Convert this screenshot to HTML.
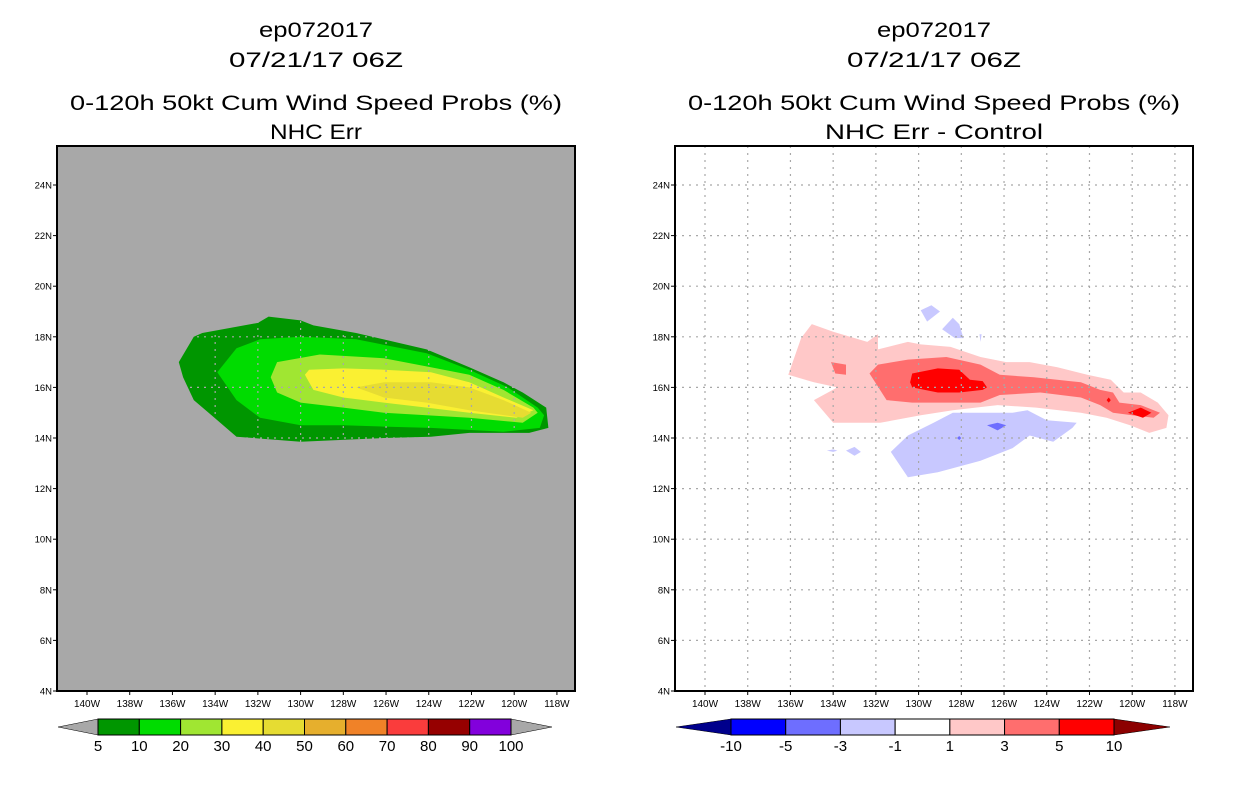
<!DOCTYPE html>
<html><head><meta charset="utf-8"><style>
html,body{margin:0;padding:0;background:#fff;}
svg{display:block;}
text{font-family:"Liberation Sans",sans-serif;fill:#000;}
</style></head><body>
<svg id="chart" width="1236" height="800" viewBox="0 0 1236 800" xmlns="http://www.w3.org/2000/svg"></svg>
<script>
// ---- data ----
const lonTicks = [140,138,136,134,132,130,128,126,124,122,120,118];
const latTicks = [4,6,8,10,12,14,16,18,20,22,24];
const leftLevels = ["5","10","20","30","40","50","60","70","80","90","100"];
const leftColors = ["#009600","#00dc00","#a0e632","#faf032","#e6dc32","#e6af2d","#f08228","#fa3c3c","#960000","#8200dc"];
const rightLevels = ["-10","-5","-3","-1","1","3","5","10"];
const rightColors = ["#00008c","#0000ff","#6e6eff","#c8c8ff","#ffffff","#ffc8c8","#ff6e6e","#ff0000","#8c0000"];
// contour polygons: [lonW, latN]
const prob5 = [[135.7,17.0],[135.0,18.0],[134.6,18.15],[132.0,18.55],[131.5,18.8],[130.0,18.65],[129.4,18.45],[127.4,18.15],[124.1,17.5],[122.1,16.8],[120.5,16.2],[119.6,15.8],[118.5,15.2],[118.4,14.4],[119.3,14.2],[122.1,14.2],[123.9,14.05],[126.1,14.0],[130.0,13.85],[133.0,14.05],[134.1,14.85],[135.0,15.5],[135.5,16.4]];
const prob10 = [[133.9,16.6],[133.0,17.55],[131.9,17.9],[130.0,18.0],[127.4,17.9],[124.1,17.35],[122.1,16.7],[120.3,16.0],[118.9,15.2],[118.6,14.9],[118.8,14.4],[120.5,14.25],[123.9,14.4],[126.1,14.45],[128.0,14.5],[130.0,14.5],[131.9,14.8],[133.0,15.5]];
const prob20 = [[131.4,16.4],[131.1,17.0],[129.1,17.3],[126.1,17.15],[123.9,16.8],[122.1,16.5],[120.5,15.9],[119.1,15.2],[118.9,15.0],[119.6,14.6],[122.1,14.8],[124.1,14.9],[126.1,15.0],[128.0,15.2],[130.0,15.4],[131.1,15.8]];
const prob30 = [[129.8,16.5],[129.6,16.7],[128.0,16.75],[126.1,16.7],[123.9,16.6],[122.1,16.2],[120.5,15.6],[119.1,15.1],[119.9,14.8],[122.1,15.0],[124.1,15.2],[126.1,15.4],[128.0,15.6],[129.4,15.9]];
const prob40 = [[127.4,16.0],[126.1,16.2],[123.9,16.2],[122.1,16.0],[120.5,15.5],[119.2,15.0],[119.6,14.8],[122.1,15.1],[124.1,15.4],[126.1,15.6]];
const diffPos1 = [[136.1,16.5],[135.5,17.95],[135.0,18.5],[134.0,18.2],[132.4,17.8],[131.9,18.1],[131.9,17.5],[130.5,17.8],[129.9,17.7],[128.5,17.6],[127.1,17.2],[125.9,17.0],[124.8,17.0],[123.5,16.8],[122.1,16.5],[121.0,16.3],[120.4,15.8],[119.6,15.8],[118.8,15.4],[118.3,14.9],[118.4,14.4],[119.2,14.2],[120.1,14.5],[121.2,14.8],[122.4,15.0],[124.5,15.2],[126.3,15.3],[128.4,15.1],[129.9,14.9],[131.8,14.6],[134.0,14.6],[134.9,15.5],[133.8,16.0],[134.9,16.2]];
const diffPos3 = [[132.3,16.55],[131.9,16.9],[130.5,17.1],[128.7,17.2],[127.1,16.9],[126.2,16.5],[124.6,16.4],[122.4,16.2],[121.5,15.9],[120.9,15.8],[120.6,15.4],[119.6,15.3],[118.7,15.0],[119.0,14.8],[120.0,14.9],[120.9,15.0],[121.5,15.3],[122.4,15.6],[124.3,15.8],[126.2,15.7],[127.1,15.4],[128.7,15.4],[130.3,15.4],[131.5,15.5]];
const diffPos3b = [[134.1,17.0],[133.4,16.9],[133.4,16.5],[133.9,16.55]];
const diffPos5 = [[130.3,16.55],[129.1,16.75],[128.1,16.7],[127.6,16.3],[127.0,16.25],[126.8,16.0],[127.0,15.9],[128.1,15.8],[129.1,15.8],[130.3,16.0],[130.4,16.2]];
const diffPos5b = [[120.2,15.0],[119.6,15.2],[119.1,15.0],[119.5,14.8]];
const diffPos5c = [[121.2,15.5],[121.1,15.6],[121.0,15.5],[121.1,15.4]];
const diffNeg1 = [[131.3,13.45],[130.5,14.1],[129.3,14.6],[128.4,15.0],[127.1,15.0],[125.6,15.0],[124.9,15.1],[124.0,14.7],[122.6,14.6],[122.8,14.4],[123.7,13.85],[124.8,14.1],[125.6,13.6],[127.1,13.1],[129.1,12.65],[130.5,12.45]];
const diffNeg1b = [[129.9,19.05],[129.4,19.25],[129.0,19.0],[129.6,18.6]];
const diffNeg1c = [[128.9,18.3],[128.4,18.75],[128.1,18.5],[127.9,17.95],[128.3,17.95]];
const diffNeg1d = [[133.4,13.5],[133.0,13.65],[132.7,13.45],[133.0,13.3]];
const diffNeg1e = [[134.3,13.5],[134.0,13.55],[133.8,13.5],[134.0,13.45]];
const diffNeg1f = [[127.15,18.1],[127.05,18.1],[127.1,17.8]];
const diffNeg3 = [[126.8,14.5],[126.3,14.6],[125.9,14.5],[126.3,14.3]];
const diffNeg3b = [[128.2,14.0],[128.1,14.08],[128.0,14.0],[128.1,13.92]];

// ---- drawing ----
const NS = "http://www.w3.org/2000/svg";
const svg = document.getElementById("chart");
function mk(tag, attrs, parent){const e=document.createElementNS(NS,tag);for(const k in attrs)e.setAttribute(k,attrs[k]);(parent||svg).appendChild(e);return e;}
const TOP=146,BOT=691,W=518;
function xs(x0){return lonW => x0 + 30 + (140-lonW)*21.36;}
function ys(lat){return BOT-(lat-4)*25.3;}
function poly(g, pts, x, color, name){
  const p = mk("polygon",{points:pts.map(d=>x(d[0]).toFixed(1)+","+ys(d[1]).toFixed(1)).join(" "),fill:color},g);
  
  
}
function text(s, x, y, size, anchor, parent, name, len){
  const t = mk("text",{x:x,y:y,"font-size":size,"text-anchor":anchor||"middle"},parent);
  if(len){t.setAttribute("textLength",len);t.setAttribute("lengthAdjust","spacingAndGlyphs");}
  t.textContent = s;
  
  
  return t;
}
function panel(x0, bg, gridColor, layers, sub, subLen, name){
  const g = mk("g",{});
  
  
  const cx = x0 + W/2 + 0;
  text("ep072017", cx, 37, 21, "middle", g, "storm-id-title", 114);
  text("07/21/17 06Z", cx, 67, 21, "middle", g, "date-title", 174);
  text("0-120h 50kt Cum Wind Speed Probs (%)", cx, 110, 21, "middle", g, "chart-title", 492);
  text(sub, cx, 139, 21, "middle", g, "subtitle", subLen);
  const bgR = mk("rect",{x:x0,y:TOP,width:W,height:BOT-TOP,fill:bg},g);
  
  
  const x = xs(x0);
  layers.forEach(l => poly(g, l[0], x, l[1], l[2]));
  lonTicks.forEach(v=>{
    const gl = mk("line",{x1:x(v),x2:x(v),y1:TOP,y2:BOT,stroke:gridColor,"stroke-width":1.2,"stroke-dasharray":"2,5"},g);
    
    
    const tk = mk("line",{x1:x(v),x2:x(v),y1:BOT,y2:BOT+4,stroke:"#000","stroke-width":1},g);
    
    
    text(v+"W", x(v), BOT+16, 10, "middle", g, "lon-tick-label");
  });
  latTicks.forEach(v=>{
    if(v>4){
      const gl = mk("line",{x1:x0,x2:x0+W,y1:ys(v),y2:ys(v),stroke:gridColor,"stroke-width":1.2,"stroke-dasharray":"2,5"},g);
      
      
    }
    const tk = mk("line",{x1:x0-4,x2:x0,y1:ys(v),y2:ys(v),stroke:"#000","stroke-width":1},g);
    
    
    text(v+"N", x0-5, ys(v)+3.5, 9.5, "end", g, "lat-tick-label");
  });
  const fr = mk("rect",{x:x0,y:TOP,width:W,height:BOT-TOP,fill:"none",stroke:"#000","stroke-width":2},g);
  
  
}
function colorbar(xl, xr, boxL, boxR, colors, labels, endL, endR, name){
  const g = mk("g",{});
  
  
  const y1=719,y2=735,ym=(y1+y2)/2;
  const tl = mk("polygon",{points:`${xl},${ym} ${boxL},${y1} ${boxL},${y2}`,fill:endL,stroke:"#000","stroke-width":0.5},g);
  
  
  const tr = mk("polygon",{points:`${xr},${ym} ${boxR},${y1} ${boxR},${y2}`,fill:endR,stroke:"#000","stroke-width":0.5},g);
  
  
  const n = colors.length, w=(boxR-boxL)/n;
  colors.forEach((c,i)=>{
    const r = mk("rect",{x:boxL+i*w,y:y1,width:w,height:y2-y1,fill:c,stroke:"#000","stroke-width":1},g);
    
    
  });
  labels.forEach((s,i)=>text(s, boxL+i*w, 751, 15, "middle", g, "colorbar-label"));
}
panel(57,"#a8a8a8","#a8a8a8",[[prob5,leftColors[0],"prob-5"],[prob10,leftColors[1],"prob-10"],[prob20,leftColors[2],"prob-20"],[prob30,leftColors[3],"prob-30"],[prob40,leftColors[4],"prob-40"]],"NHC Err",92,"left-panel");
panel(675,"#ffffff","#a8a8a8",[[diffPos1,rightColors[5],"diff-pos-1"],[diffPos3,rightColors[6],"diff-pos-3"],[diffPos3b,rightColors[6],"diff-pos-3b"],[diffPos5,rightColors[7],"diff-pos-5"],[diffPos5b,rightColors[7],"diff-pos-5b"],[diffPos5c,rightColors[7],"diff-pos-5c"],[diffNeg1,rightColors[3],"diff-neg-1"],[diffNeg1b,rightColors[3],"diff-neg-1b"],[diffNeg1c,rightColors[3],"diff-neg-1c"],[diffNeg1d,rightColors[3],"diff-neg-1d"],[diffNeg1e,rightColors[3],"diff-neg-1e"],[diffNeg1f,rightColors[3],"diff-neg-1f"],[diffNeg3,rightColors[2],"diff-neg-3"],[diffNeg3b,rightColors[2],"diff-neg-3b"]],"NHC Err - Control",218,"right-panel");
colorbar(58,552,98,511,leftColors.slice(),leftLevels,"#a8a8a8","#a8a8a8","left-colorbar");
colorbar(676,1170,731,1114,rightColors.slice(1,8),rightLevels,rightColors[0],rightColors[8],"right-colorbar");
</script>
</body></html>
